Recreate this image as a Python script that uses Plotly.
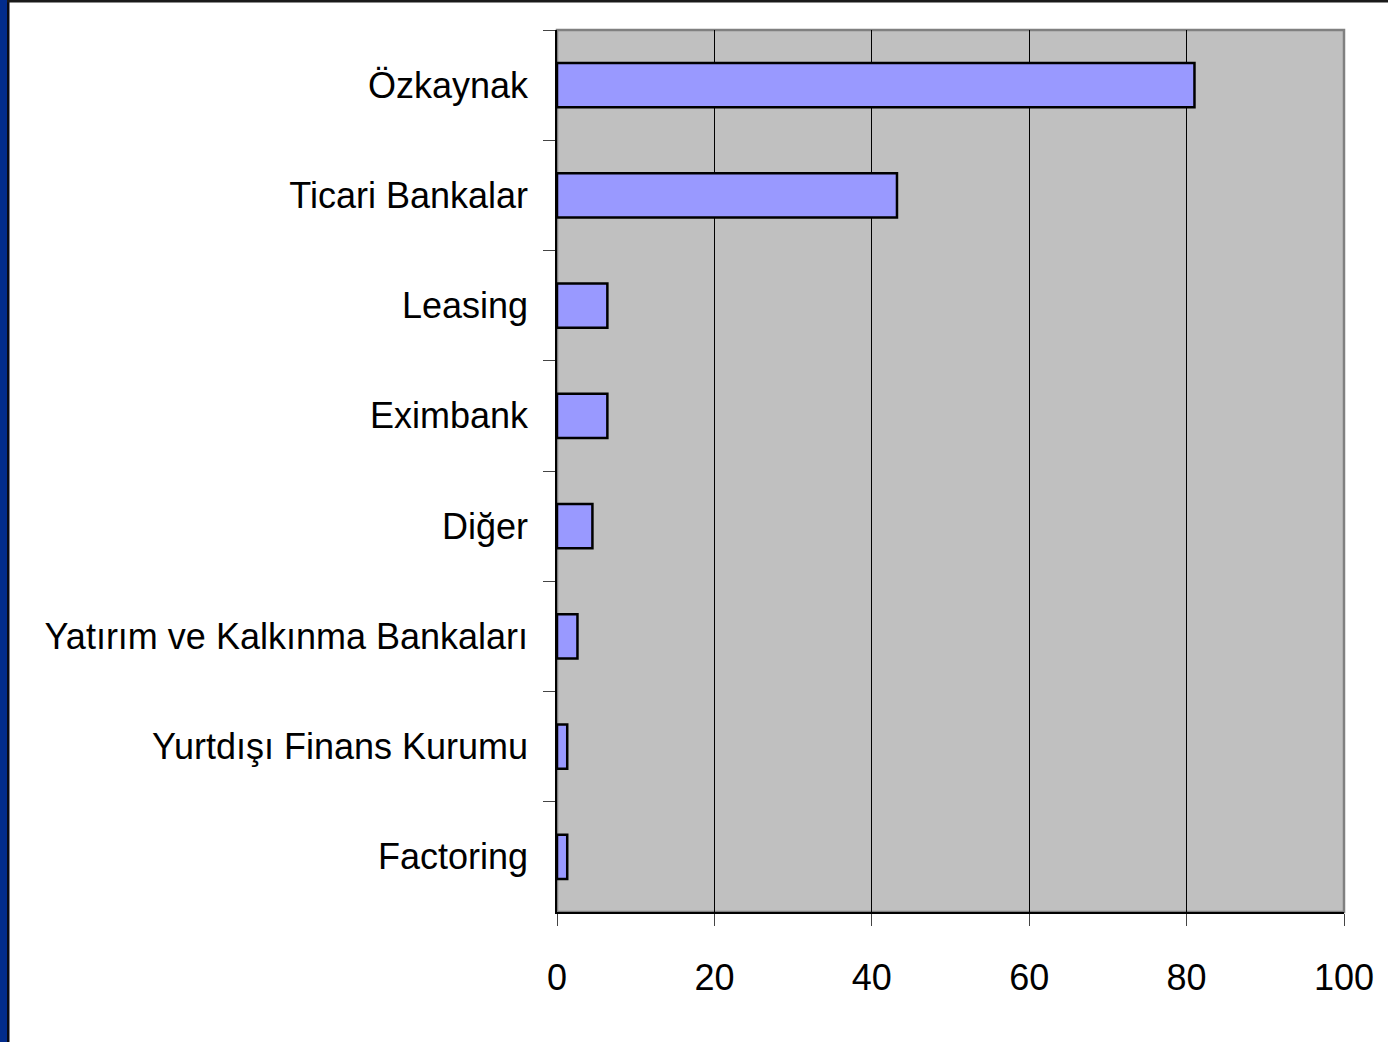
import plotly.graph_objects as go

W, H = 1388, 1042
L, R, T, B = 557, 44, 30, 130

categories = ["Özkaynak", "Ticari Bankalar", "Leasing", "Eximbank", "Diğer",
              "Yatırım ve Kalkınma Bankaları", "Yurtdışı Finans Kurumu", "Factoring"]
values = [81, 43.2, 6.4, 6.4, 4.5, 2.6, 1.3, 1.3]
x_ticks = [0, 20, 40, 60, 80, 100]

font = dict(family="Liberation Sans, Arial", size=36, color="black")

fig = go.Figure(go.Bar(
    x=values, y=categories, orientation="h", width=0.4,
    marker=dict(color="#9999ff", line=dict(color="black", width=2.5)),
))

pw, ph = W - L - R, H - T - B
def px_x(p):
    return (p - L) / pw
def px_y(p):
    return (H - B - p) / ph

fig.update_layout(
    width=W, height=H,
    margin=dict(l=L, r=R, t=T, b=B, pad=0, autoexpand=False),
    paper_bgcolor="white", plot_bgcolor="#c0c0c0",
    showlegend=False, font=font,
    xaxis=dict(range=[0, 100], tickvals=x_ticks, showgrid=True, gridcolor="black", gridwidth=1,
               zeroline=False, showline=True, linecolor="black", linewidth=1.5, automargin=False,
               ticks="outside", ticklen=12, tickcolor="#444", ticklabelstandoff=21, tickfont=font),
    yaxis=dict(autorange="reversed", tickson="boundaries", showgrid=False, zeroline=False,
               showline=True, linecolor="black", linewidth=1.5, automargin=False,
               ticks="outside", ticklen=12, tickcolor="#444", ticklabelstandoff=20, tickfont=font),
    shapes=[
        # gray frame of the plot area
        dict(type="rect", xref="paper", yref="paper", x0=0, x1=1, y0=0, y1=1,
             line=dict(color="#808080", width=2.5), layer="below"),
        # slide border: blue strip on the left, dark line on top
        dict(type="rect", xref="paper", yref="paper", x0=px_x(0), x1=px_x(7), y0=px_y(H), y1=px_y(0),
             fillcolor="#022c8c", line=dict(width=0)),
        dict(type="rect", xref="paper", yref="paper", x0=px_x(7), x1=px_x(9.5), y0=px_y(H), y1=px_y(0),
             fillcolor="#0a0a14", line=dict(width=0)),
        dict(type="rect", xref="paper", yref="paper", x0=px_x(7), x1=px_x(W), y0=px_y(2.5), y1=px_y(0),
             fillcolor="#1a1a1a", line=dict(width=0)),
    ],
)

# drop the page's default body margin so the figure sits at the window's corner
fig.write_html("out.html", config={"displayModeBar": False},
               post_script="document.body.style.margin = '0';")
